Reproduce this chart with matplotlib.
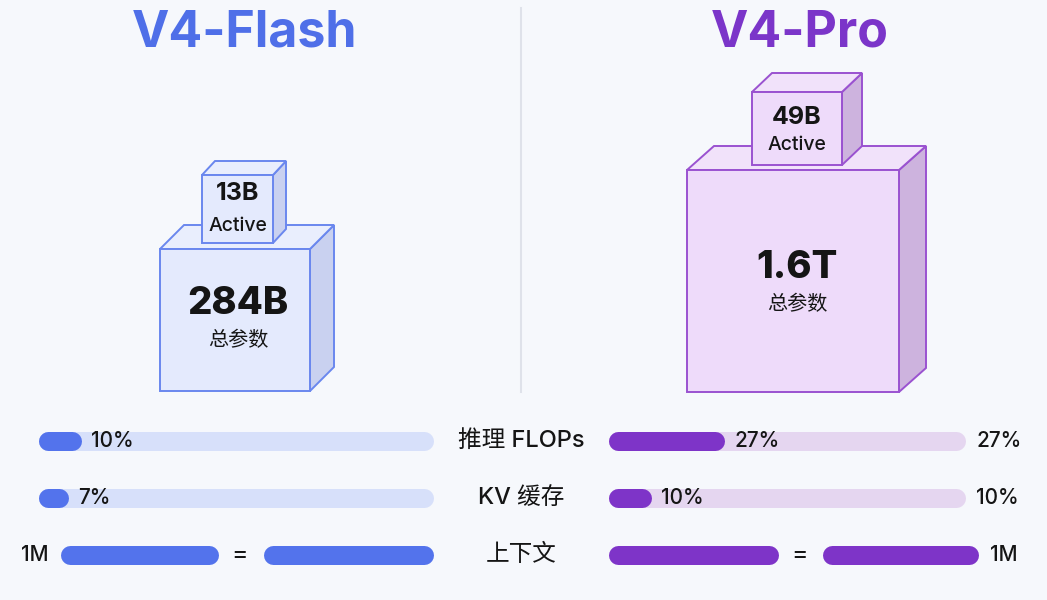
import matplotlib
matplotlib.use("Agg")
import matplotlib.pyplot as plt
from matplotlib.patches import Polygon
from matplotlib.transforms import blended_transform_factory

plt.rcParams['font.family'] = ['Inter', 'Noto Sans CJK SC', 'DejaVu Sans']

# ---------------- data ----------------
models = ["V4-Flash", "V4-Pro"]
total_params = ["284B", "1.6T"]
active_params = ["13B", "49B"]
metric_names = ["推理 FLOPs", "KV 缓存", "上下文"]
flops_pct = [10, 27]        # % of baseline
kv_pct = [7, 10]
context_len = ["1M", "1M"]
pro_ref_labels = ["27%", "10%", "1M"]   # right-hand reference labels

# ---------------- style ----------------
W, H = 1047, 600
BG = "#f6f8fc"
title_col = ["#4f6fe8", "#7b35c9"]
fill_col = ["#5373ec", "#7e34c8"]
track_col = ["#d7e0fa", "#e5d6f0"]
face_col = ["#e4eafd", "#eedbfa"]
top_col = ["#e9eefd", "#f1e2fa"]
side_col = ["#c9d1f0", "#cdb3de"]
edge_col = ["#6a87ee", "#9a52d0"]
TXT = "#151515"

fig = plt.figure(figsize=(W / 100, H / 100), dpi=100)
fig.patch.set_facecolor(BG)
bg = fig.add_axes([0, 0, 1, 1])
bg.set_xlim(0, W)
bg.set_ylim(H, 0)
bg.axis("off")


def cube(ax, x, top, w, h, dx, dy, i):
    bot = top + h
    front = Polygon([(x, top), (x + w, top), (x + w, bot), (x, bot)], closed=True,
                    fc=face_col[i], ec=edge_col[i], lw=1.4, zorder=3)
    upper = Polygon([(x, top), (x + dx, top - dy), (x + w + dx, top - dy), (x + w, top)],
                    closed=True, fc=top_col[i], ec=edge_col[i], lw=1.4, zorder=3)
    side = Polygon([(x + w, top), (x + w + dx, top - dy), (x + w + dx, bot - dy), (x + w, bot)],
                   closed=True, fc=side_col[i], ec=edge_col[i], lw=1.4, zorder=3)
    for p in (side, upper, front):
        ax.add_patch(p)


# divider
bg.plot([521, 521], [8, 392], color="#dfe2ea", lw=1.5)

# titles
bg.text(245, 33, models[0], color=title_col[0], fontsize=36, fontweight="bold",
        ha="center", va="center")
bg.text(800, 33, models[1], color=title_col[1], fontsize=36, fontweight="bold",
        ha="center", va="center")

# cubes: (big front, small front)
cube(bg, 160, 249, 150, 142, 24, 24, 0)
cube(bg, 202, 175, 71, 68, 13, 14, 0)
cube(bg, 687, 170, 212, 222, 27, 24, 1)
cube(bg, 752, 92, 90, 73, 20, 19, 1)

for cx, ay, aty, ty, ly, i in [(238, 194, 226, 304, 340, 0), (797, 117, 145, 268, 304, 1)]:
    bg.text(cx, ay, active_params[i], fontsize=18, fontweight="bold", color=TXT,
            ha="center", va="center", zorder=5)
    bg.text(cx, aty, "Active", fontsize=14, fontweight=500, color=TXT,
            ha="center", va="center", zorder=5)
    bg.text(cx, ty, total_params[i], fontsize=27.5, fontweight="heavy", color=TXT,
            ha="center", va="center", zorder=5)
    bg.text(cx, ly, "总参数", fontsize=14.5, fontweight=500, color=TXT,
            ha="center", va="center", zorder=5)

# metric names in the middle
row_y = [441, 498, 555]
for name, yy in zip(metric_names, row_y):
    bg.text(521, yy, name, fontsize=17, fontweight=500, color=TXT, ha="center", va="center")

# ---------------- bars ----------------
PX_PER_PCT = 4.3
BAR_PX = 19
ROW_TOP, ROW_BOT = 412.5, 583.5
LBL = dict(fontsize=15, fontweight=500, color=TXT, va="center")


def bar_axes(x0, x1):
    ax = fig.add_axes([x0 / W, 1 - ROW_BOT / H, (x1 - x0) / W, (ROW_BOT - ROW_TOP) / H])
    ax.set_xlim(0, (x1 - x0) / PX_PER_PCT)
    ax.set_ylim(2.5, -0.5)
    ax.axis("off")
    return ax


def pill(ax, a, b, y, color, trans=None, units_px=None):
    # a, b are the outer ends of the pill; round caps are inset so the full length is b-a
    r = (BAR_PX / 2) / (units_px if units_px else PX_PER_PCT)
    lw = BAR_PX * 72 / 100
    kw = dict(color=color, lw=lw, solid_capstyle="round", clip_on=False)
    if trans is not None:
        kw["transform"] = trans
    ax.plot([a + r, max(b - r, a + r)], [y, y], **kw)


sides = [(38, 433), (608, 965)]
for i, (x0, x1) in enumerate(sides):
    ax = bar_axes(x0, x1)
    xmax = ax.get_xlim()[1]
    pill(ax, 0, xmax, 0, track_col[i])
    pill(ax, 0, flops_pct[i], 0, fill_col[i])
    ax.text(flops_pct[i] + 10 / PX_PER_PCT, 0, f"{flops_pct[i]}%", ha="left", **LBL)
    pill(ax, 0, xmax, 1, track_col[i])
    pill(ax, 0, kv_pct[i], 1, fill_col[i])
    ax.text(kv_pct[i] + 10 / PX_PER_PCT, 1, f"{kv_pct[i]}%", ha="left", **LBL)

    # context row: two equal pills joined by "="
    tr = blended_transform_factory(ax.transAxes, ax.transData)
    span = x1 - x0
    if i == 0:
        segs = [(60, 218), (263, 433)]
        eq_x = 240
        ax.text((49 - x0) / span, 2, context_len[i], transform=tr, ha="right", **LBL)
    else:
        segs = [(608, 778), (822, 978)]
        eq_x = 800
        ax.text((990 - x0) / span, 2, context_len[i], transform=tr, ha="left", **LBL)
        for r, lab in enumerate(pro_ref_labels[:2]):
            ax.text((976 - x0) / span, r, lab, transform=tr, ha="left", **LBL)
    for a, b in segs:
        pill(ax, (a - x0) / span, (b - x0) / span, 2, fill_col[i], trans=tr, units_px=span)
    ax.text((eq_x - x0) / span, 2, "=", transform=tr, fontsize=18, color=TXT,
            ha="center", va="center")

fig.savefig("out.png", dpi=100, facecolor=BG)
